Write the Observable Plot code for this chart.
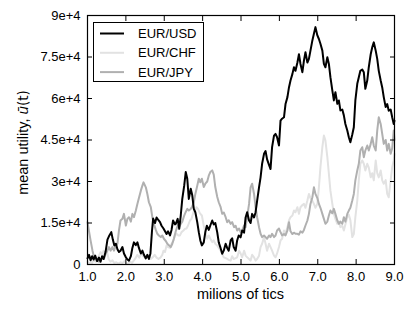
<!DOCTYPE html>
<html><head><meta charset="utf-8">
<script src="https://cdn.jsdelivr.net/npm/d3@7"></script>
<script src="https://cdn.jsdelivr.net/npm/@observablehq/plot@0.6"></script>
<style>
body{margin:0;background:#fff;}
#wrap{position:relative;width:415px;height:311px;font-family:"Liberation Sans",Arial,sans-serif;}
#legend{position:absolute;left:93px;top:22px;width:111px;height:60px;border:1px solid #000;background:#fff;box-sizing:border-box;}
</style>
</head><body>
<div id="wrap"><div id="legend"></div></div>
<script>
const seriesNames = ["EUR/USD", "EUR/CHF", "EUR/JPY"];
const seriesColors = ["#000000", "#e2e2e2", "#b0b0b0"];
const xTicks = [1, 2, 3, 4, 5, 6, 7, 8, 9];
const xTickLabels = ["1.0", "2.0", "3.0", "4.0", "5.0", "6.0", "7.0", "8.0", "9.0"];
const yTicks = [0, 15000, 30000, 45000, 60000, 75000, 90000];
const yTickLabels = ["0", "1.5e+4", "3e+4", "4.5e+4", "6e+4", "7.5e+4", "9e+4"];

const usdTics = [1.00,1.04,1.08,1.12,1.16,1.20,1.25,1.30,1.34,1.38,1.42,1.47,1.52,1.57,1.62,1.66,1.70,1.74,1.78,1.82,1.86,1.91,1.95,2.00,2.04,2.08,2.13,2.17,2.21,2.26,2.30,2.34,2.39,2.43,2.47,2.52,2.56,2.60,2.64,2.68,2.71,2.76,2.80,2.85,2.89,2.93,2.98,3.02,3.06,3.10,3.15,3.19,3.23,3.28,3.30,3.35,3.39,3.43,3.47,3.52,3.56,3.60,3.64,3.69,3.73,3.77,3.81,3.86,3.90,3.94,3.98,4.03,4.07,4.11,4.16,4.20,4.25,4.29,4.33,4.38,4.42,4.46,4.51,4.55,4.60,4.64,4.68,4.73,4.77,4.81,4.86,4.90,4.94,4.99,5.03,5.08,5.12,5.16,5.21,5.25,5.29,5.34,5.38,5.42,5.47,5.51,5.55,5.60,5.64,5.68,5.73,5.77,5.81,5.86,5.90,5.94,5.99,6.03,6.07,6.12,6.16,6.21,6.25,6.29,6.34,6.38,6.42,6.47,6.51,6.55,6.60,6.64,6.68,6.73,6.77,6.81,6.86,6.90,6.94,6.99,7.03,7.07,7.12,7.16,7.20,7.25,7.29,7.33,7.38,7.42,7.46,7.51,7.55,7.59,7.64,7.68,7.72,7.77,7.81,7.85,7.90,7.94,7.98,8.03,8.07,8.11,8.16,8.20,8.24,8.29,8.33,8.38,8.42,8.46,8.51,8.55,8.59,8.64,8.68,8.72,8.77,8.81,8.85,8.90,8.94,8.98,9.00];
const usdValues = [2200,3500,1500,3000,1800,3200,1200,2500,1000,3000,2000,4500,9000,10500,11700,9000,6900,7500,5500,4500,5000,6300,4000,2600,1800,1400,3000,6000,8000,7000,8000,6000,4000,5000,3500,2200,3500,2000,4000,12000,16600,15000,17000,16000,15300,14000,13000,12000,11000,12000,10500,12500,15900,14500,14700,16500,12900,17700,23700,28500,33400,31000,23700,27400,25000,20100,18900,15300,11700,8700,6900,8000,11700,14000,12500,14100,15900,14500,15000,11700,8000,6300,3900,5000,7500,6000,5000,8700,9500,6300,5000,8700,10500,9800,12300,11500,17000,18900,15900,15000,18300,17000,18900,23000,27900,31500,36400,40000,41000,38000,36000,34500,42400,46600,47200,46000,43000,52000,52700,53200,58000,60500,64000,66500,68900,71300,70000,73000,76000,72500,69500,73700,76700,73000,74300,77300,81000,83400,85800,82800,81500,79800,77300,72500,71300,74900,72500,67700,62900,59300,62300,58100,59300,55700,56000,53900,50800,48400,46000,44200,47000,49600,59300,65300,67700,70000,70500,69500,63500,66500,71300,76000,78500,80300,77300,74300,70000,66500,64000,60500,56900,58000,55600,56000,53200,50800,52000];

const chfTics = [1.00,1.04,1.08,1.12,1.16,1.21,1.25,1.29,1.34,1.38,1.42,1.47,1.51,1.55,1.60,1.65,1.70,1.75,1.80,1.86,1.91,1.96,2.01,2.06,2.11,2.16,2.21,2.26,2.30,2.35,2.40,2.45,2.50,2.55,2.60,2.65,2.70,2.75,2.80,2.85,2.90,2.95,2.98,3.02,3.06,3.10,3.15,3.19,3.24,3.28,3.32,3.37,3.41,3.45,3.50,3.54,3.58,3.62,3.67,3.71,3.76,3.80,3.84,3.88,3.93,3.98,4.03,4.07,4.12,4.16,4.21,4.25,4.29,4.33,4.38,4.42,4.47,4.51,4.55,4.60,4.64,4.68,4.73,4.77,4.81,4.86,4.90,4.95,4.99,5.03,5.08,5.12,5.16,5.21,5.25,5.29,5.34,5.38,5.42,5.47,5.51,5.55,5.60,5.64,5.68,5.73,5.77,5.81,5.86,5.90,5.94,5.99,6.03,6.07,6.12,6.16,6.21,6.25,6.29,6.34,6.38,6.42,6.47,6.51,6.55,6.60,6.64,6.68,6.73,6.77,6.81,6.86,6.90,6.94,6.99,7.03,7.07,7.12,7.16,7.20,7.25,7.29,7.33,7.38,7.42,7.46,7.51,7.55,7.59,7.64,7.68,7.72,7.77,7.81,7.85,7.90,7.94,7.98,8.03,8.07,8.11,8.16,8.20,8.24,8.29,8.33,8.38,8.42,8.46,8.51,8.55,8.59,8.64,8.68,8.72,8.77,8.81,8.85,8.90,8.94,8.98,9.00];
const chfValues = [1000,300,800,500,1500,1000,2000,3000,4500,3500,5000,3500,4500,2000,1000,1500,500,800,300,800,500,1200,500,300,1000,600,1500,2500,3500,2500,4000,3000,2500,3500,3000,2000,2600,3500,2500,2000,2500,3500,5000,4500,6900,6300,6000,7500,8700,10500,11100,10500,10500,11700,12300,12900,13000,14100,15900,16500,18900,19500,20700,20100,18500,17700,14000,11700,9300,10500,9000,8100,8700,7500,6900,6000,5000,3800,2600,2300,2000,1700,1400,3000,2000,2300,2600,5000,4000,2600,5000,3200,2600,2000,1400,3500,2600,1400,2000,3200,6300,7500,9900,7500,5000,7500,6300,5000,3200,2600,4000,6300,8700,9300,12300,11100,13500,15900,17100,17700,19500,18900,20700,18300,20700,21500,21900,20500,23100,25500,24000,23000,21900,20500,21900,27900,35200,42400,46600,44800,38800,32800,26700,21900,18300,16500,14700,15500,13500,14000,12300,14500,17100,18000,16000,9900,11000,17100,23100,30400,36400,37600,36400,34000,36400,35000,31500,33000,30400,37600,33000,31500,34000,30400,29200,30500,25500,24300,30400,35200,37600,40000];

const jpyTics = [1.00,1.04,1.08,1.13,1.17,1.21,1.26,1.30,1.34,1.39,1.43,1.47,1.52,1.56,1.60,1.65,1.69,1.73,1.78,1.82,1.86,1.91,1.95,2.00,2.04,2.08,2.13,2.17,2.21,2.26,2.30,2.34,2.39,2.43,2.46,2.52,2.56,2.60,2.65,2.69,2.73,2.78,2.82,2.86,2.91,2.95,2.99,3.04,3.08,3.12,3.17,3.21,3.25,3.30,3.35,3.39,3.43,3.47,3.52,3.56,3.60,3.64,3.69,3.73,3.77,3.81,3.86,3.90,3.94,3.98,4.03,4.07,4.12,4.16,4.20,4.25,4.29,4.33,4.38,4.42,4.47,4.51,4.55,4.60,4.64,4.68,4.73,4.77,4.82,4.86,4.90,4.95,4.99,5.03,5.08,5.12,5.16,5.21,5.25,5.29,5.34,5.38,5.42,5.47,5.51,5.55,5.60,5.64,5.68,5.73,5.77,5.81,5.86,5.90,5.94,5.99,6.03,6.07,6.12,6.16,6.21,6.25,6.29,6.34,6.38,6.42,6.47,6.51,6.55,6.60,6.64,6.68,6.73,6.77,6.81,6.86,6.90,6.94,6.99,7.03,7.07,7.12,7.16,7.20,7.25,7.29,7.33,7.38,7.42,7.46,7.51,7.55,7.59,7.64,7.68,7.72,7.77,7.81,7.85,7.90,7.94,7.98,8.03,8.07,8.11,8.16,8.20,8.24,8.29,8.33,8.38,8.42,8.46,8.51,8.55,8.59,8.64,8.68,8.72,8.77,8.81,8.85,8.90,8.94,8.98,9.00];
const jpyValues = [15300,12000,8700,5000,2600,2000,1400,1000,1400,2500,2000,3900,5000,6300,5000,6300,5000,6500,7500,12300,15900,16500,18300,14100,16500,17100,15500,18300,17100,19500,21900,24000,26700,28500,29700,27900,25500,22500,20700,17100,14700,12500,11100,10500,9900,10500,9300,8500,7500,7000,6300,7500,9300,12000,14100,13500,14700,15500,17700,19000,20100,19500,20100,21000,22500,25500,28500,31000,29700,31000,28000,29200,30000,32100,33400,34000,32500,28000,24500,22500,20700,18300,18800,17100,15300,16000,14700,15300,13500,14000,12300,13000,11700,12300,14100,13500,17100,21900,27900,29200,25500,20700,17100,13500,11100,9900,10500,9900,9300,10500,9900,11100,9900,10500,12300,13000,11700,10500,11000,10500,12300,15300,12000,11000,11500,11100,11100,10800,12000,11500,12500,14100,15900,18300,21900,24300,27900,25500,24000,21900,20500,18300,16500,14700,15500,17700,19500,18500,20100,18300,15900,14700,15500,14700,17100,15500,18300,19500,20500,23100,25500,30400,34000,36400,41200,42400,38800,41200,43000,41200,43600,46000,43000,41200,48400,53200,50800,47200,43600,45000,41200,43600,40000,42000,48400,45000];

const toRows = (tics, vals) => tics.map((t, i) => ({t, v: vals[i]}));
const usd = toRows(usdTics, usdValues);
const chf = toRows(chfTics, chfValues);
const jpy = toRows(jpyTics, jpyValues);

const font = '"Liberation Sans", Arial, sans-serif';
const chart = Plot.plot({
  width: 415, height: 311,
  marginLeft: 87, marginRight: 21, marginTop: 15, marginBottom: 47,
  style: {fontFamily: font, fontSize: "13px", color: "#000", background: "#fff"},
  x: {domain: [1, 9], label: null},
  y: {domain: [0, 90000], label: null},
  marks: [
    Plot.line(chf, {x: "t", y: "v", stroke: seriesColors[1], strokeWidth: 2}),
    Plot.line(jpy, {x: "t", y: "v", stroke: seriesColors[2], strokeWidth: 2}),
    Plot.line(usd, {x: "t", y: "v", stroke: seriesColors[0], strokeWidth: 2}),
    Plot.axisX({anchor: "bottom", ticks: xTicks, tickSize: -5, tickPadding: 12, tickFormat: d => xTickLabels[xTicks.indexOf(d)], label: null, fontSize: 13}),
    Plot.axisX({anchor: "top", ticks: xTicks, tickSize: -5, tickFormat: () => "", label: null}),
    Plot.axisY({anchor: "left", ticks: yTicks, tickSize: -5, tickPadding: 12, tickFormat: d => yTickLabels[yTicks.indexOf(d)], label: null, fontSize: 13}),
    Plot.axisY({anchor: "right", ticks: yTicks, tickSize: -5, tickFormat: () => "", label: null}),
    Plot.frame({stroke: "#000", strokeWidth: 1.2})
  ]
});
document.getElementById("wrap").prepend(chart);

const svg = d3.select(chart);
svg.append("text").attr("x", 240.5).attr("y", 298.5).attr("text-anchor", "middle")
  .style("font-family", font).style("font-size", "14.5px").attr("fill", "#000")
  .text("milions of tics");
const yl = svg.append("text").attr("transform", "translate(27.5,142.5) rotate(-90)").attr("text-anchor", "middle")
  .style("font-family", font).style("font-size", "14.5px").attr("fill", "#000");
yl.append("tspan").text("mean utility, ");
yl.append("tspan").style("font-style", "italic").style("font-family", '"DejaVu Sans", sans-serif').style("font-size", "13.5px").text("ū");
yl.append("tspan").style("font-family", '"DejaVu Sans", sans-serif').style("font-size", "13.5px").text("(t)");

const leg = d3.select("#legend").append("svg").attr("width", 109).attr("height", 58);
seriesNames.forEach((name, i) => {
  const cy = 10.5 + i * 19.3;
  leg.append("line").attr("x1", 6).attr("x2", 30).attr("y1", cy).attr("y2", cy)
    .attr("stroke", seriesColors[i]).attr("stroke-width", 2);
  leg.append("text").attr("x", 44).attr("y", cy).attr("dy", "0.36em")
    .style("font-family", font).style("font-size", "13px").attr("fill", "#000").text(name);
});
</script>
</body></html>
